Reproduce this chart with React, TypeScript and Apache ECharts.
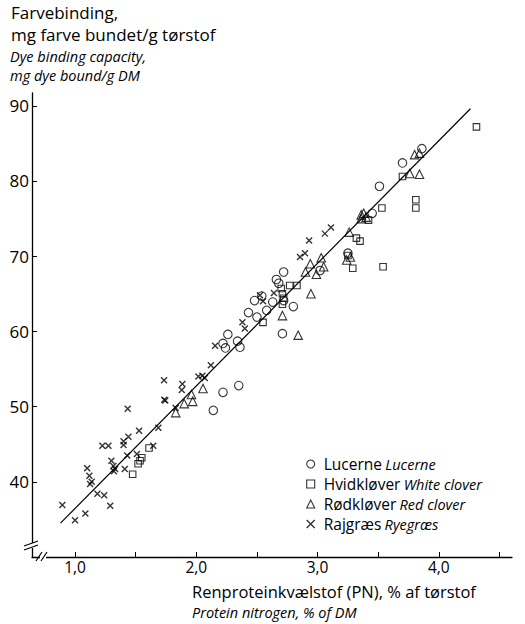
import React, { useEffect, useRef } from "react";
import * as echarts from "echarts";

// Lucerne (circles)
const lucernePN = [2.14, 2.22, 2.35, 2.22, 2.24, 2.26, 2.34, 2.36, 2.43, 2.5, 2.48, 2.54, 2.58, 2.63, 2.72, 2.66, 2.68, 2.71, 2.8, 2.72, 3.02, 3.25, 3.45, 3.51, 3.7, 3.86];
const lucerneDye = [49.5, 51.9, 52.8, 58.4, 57.8, 59.6, 58.7, 57.9, 62.5, 61.9, 64.1, 64.7, 62.8, 63.9, 67.9, 66.9, 66.4, 59.7, 63.3, 64.1, 68.1, 70.4, 75.7, 79.3, 82.4, 84.3];

// Hvidkløver (squares)
const hvidPN = [1.475, 1.536, 1.52, 1.55, 1.61, 2.55, 2.7, 2.71, 2.77, 2.83, 2.72, 2.71, 4.31, 3.7, 3.53, 3.81, 3.81, 3.54, 3.29, 3.42, 3.32, 3.35, 3.25];
const hvidDye = [41.0, 42.8, 42.4, 43.2, 44.5, 61.2, 65.7, 65.0, 66.1, 66.1, 64.4, 63.6, 87.2, 80.6, 76.4, 77.5, 76.4, 68.6, 68.4, 74.8, 72.4, 72.0, 70.1];

// Rødkløver (triangles)
const roedPN = [1.83, 1.9, 1.96, 1.97, 2.055, 2.71, 2.84, 2.945, 2.9, 2.94, 2.99, 3.05, 3.03, 3.8, 3.84, 3.84, 3.76, 3.38, 3.36, 3.36, 3.4, 3.26, 3.27, 3.24];
const roedDye = [49.2, 50.4, 51.6, 50.7, 52.4, 62.1, 59.5, 65.0, 67.9, 69.0, 67.6, 68.6, 69.8, 83.5, 83.7, 80.9, 81.0, 75.7, 75.5, 75.0, 75.2, 73.2, 69.9, 69.5];

// Rajgræs (crosses)
const rajPN = [0.895, 1.0, 1.085, 1.1, 1.118, 1.124, 1.137, 1.184, 1.24, 1.29, 1.225, 1.275, 1.3, 1.316, 1.33, 1.32, 1.41, 1.43, 1.4, 1.4, 1.44, 1.51, 1.645, 1.434, 1.528, 1.687, 1.736, 1.744, 1.734, 1.885, 1.88, 1.83, 2.017, 2.05, 2.07, 2.12, 2.155, 2.38, 2.4, 2.525, 2.55, 2.64, 2.855, 2.896, 3.11, 3.06, 2.93];
const rajDye = [36.9, 34.9, 35.8, 41.8, 40.8, 39.7, 40.0, 38.4, 38.2, 36.8, 44.8, 44.8, 42.8, 42.1, 41.7, 41.4, 41.7, 43.5, 45.4, 44.9, 46.0, 43.7, 44.8, 49.7, 46.8, 47.2, 50.9, 50.8, 53.5, 53.0, 52.2, 49.8, 54.0, 54.1, 53.8, 55.5, 58.1, 61.2, 60.4, 64.8, 64.0, 65.1, 69.9, 70.4, 73.8, 73.0, 72.1];

// Regression line end points
const lineX = [0.88, 4.26];
const lineY = [34.5, 89.6];

// Axes
const xTickValues = [1, 1.5, 2, 2.5, 3, 3.5, 4, 4.5];
const xLabelValues = [1, 2, 3, 4];
const yTickValues = [40, 50, 60, 70, 80, 90];

const seriesNames = ["Lucerne", "Hvidkløver", "Rødkløver", "Rajgræs"];
const englishNames = ["Lucerne", "White clover", "Red clover", "Ryegræs"];

const titleLines = ["Farvebinding,", "mg farve bundet/g tørstof"];
const titleLinesEn = ["Dye binding capacity,", "mg dye bound/g DM"];
const xTitle = "Renproteinkvælstof (PN), % af tørstof";
const xTitleEn = "Protein nitrogen, % of DM";

const FONT = "'Open Sans', Lato, sans-serif";

export default function App() {
  const ref = useRef<HTMLDivElement>(null);
  useEffect(() => {
    const chart = echarts.init(ref.current!, null, { renderer: "svg" });
    const zip = (xs: number[], ys: number[]) => xs.map((x, i) => [x, ys[i]]);
    const hollow = { color: "rgba(0,0,0,0)", borderColor: "#000", borderWidth: 1.1 };
    const crossStyle = { color: "rgba(0,0,0,0)", borderColor: "#000", borderWidth: 1.4 };
    const crossPath = "path://M0,0L10,10M0,10L10,0";
    const icons = ["circle", "rect", "triangle", crossPath];
    const styles = [hollow, hollow, hollow, crossStyle];
    const sizes = [8.5, 6.5, 8.5, 6];
    const datas = [
      zip(lucernePN, lucerneDye),
      zip(hvidPN, hvidDye),
      zip(roedPN, roedDye),
      zip(rajPN, rajDye),
    ];
    const engMap: Record<string, string> = {};
    seriesNames.forEach((n, i) => (engMap[n] = englishNames[i]));

    const txt = (text: string, x: number, y: number, size: number, italic: boolean) => ({
      type: "text",
      x,
      y,
      silent: true,
      style: {
        text,
        fontSize: size,
        fontFamily: FONT,
        fontStyle: italic ? "italic" : "normal",
        fill: "#000",
        verticalAlign: "middle",
        align: "left",
      },
    });

    chart.setOption({
      animation: false,
      backgroundColor: "#fff",
      grid: { left: 32, right: 13, top: 93, bottom: 67, containLabel: false, outerBoundsMode: "none" },
      xAxis: {
        type: "value",
        min: 0.645,
        max: 4.603,
        splitLine: { show: false },
        axisLine: { show: true, onZero: false, lineStyle: { color: "#000", width: 1.3 } },
        axisTick: { show: true, inside: true, length: 5, customValues: xTickValues, lineStyle: { color: "#000", width: 1 } },
        axisLabel: {
          customValues: xLabelValues,
          formatter: (v: number) => v.toFixed(1).replace(".", ","),
          color: "#000",
          fontSize: 15.5,
          fontFamily: FONT,
          margin: 2,
        },
      },
      yAxis: {
        type: "value",
        min: 30,
        max: 91.7,
        splitLine: { show: false },
        axisLine: { show: true, onZero: false, lineStyle: { color: "#000", width: 1.3 } },
        axisTick: { show: true, inside: true, length: 5, customValues: yTickValues, lineStyle: { color: "#000", width: 1 } },
        axisLabel: {
          customValues: yTickValues,
          color: "#000",
          fontSize: 17,
          fontFamily: FONT,
          margin: 3,
        },
      },
      legend: {
        orient: "vertical",
        left: 301,
        top: 451,
        itemWidth: 8,
        itemHeight: 8,
        itemGap: 4,
        data: seriesNames.map((n, i) => ({ name: n, icon: icons[i], itemStyle: styles[i] })),
        formatter: (name: string) => `{a|${name}} {b|${engMap[name]}}`,
        textStyle: {
          padding: [0, 0, 0, 4],
          rich: {
            a: { fontSize: 15.5, fontFamily: FONT, color: "#000", lineHeight: 15 },
            b: { fontSize: 14.5, fontFamily: FONT, fontStyle: "italic", color: "#000", lineHeight: 15 },
          },
        },
      },
      series: [
        {
          type: "line",
          name: "regression",
          data: zip(lineX, lineY),
          symbol: "none",
          silent: true,
          lineStyle: { color: "#000", width: 1.2 },
          z: 1,
        },
        ...seriesNames.map((n, i) => ({
          type: "scatter",
          name: n,
          data: datas[i],
          symbol: icons[i],
          symbolSize: sizes[i],
          itemStyle: styles[i],
          z: 3,
        })),
      ],
      graphic: [
        txt(titleLines[0], 11, 12.5, 17, false),
        txt(titleLines[1], 11, 34, 17, false),
        txt(titleLinesEn[0], 10, 56, 14.5, true),
        txt(titleLinesEn[1], 10, 75.5, 14.5, true),
        txt(xTitle, 192, 591, 16.5, false),
        txt(xTitleEn, 192, 612, 14.5, true),
        // y-axis break
        { type: "rect", shape: { x: 28, y: 543, width: 8, height: 5 }, style: { fill: "#fff" }, silent: true, z: 100 },
        { type: "line", shape: { x1: 24, y1: 546, x2: 38, y2: 541 }, style: { stroke: "#000", lineWidth: 1.2 }, silent: true, z: 101 },
        { type: "line", shape: { x1: 24, y1: 550, x2: 38, y2: 545 }, style: { stroke: "#000", lineWidth: 1.2 }, silent: true, z: 101 },
        // x-axis break
        { type: "rect", shape: { x: 40, y: 554, width: 6, height: 6 }, style: { fill: "#fff" }, silent: true, z: 100 },
        { type: "line", shape: { x1: 36, y1: 561, x2: 42, y2: 552 }, style: { stroke: "#000", lineWidth: 1.2 }, silent: true, z: 101 },
        { type: "line", shape: { x1: 41, y1: 561, x2: 47, y2: 552 }, style: { stroke: "#000", lineWidth: 1.2 }, silent: true, z: 101 },
      ],
    });
    return () => chart.dispose();
  }, []);
  return (
    <div
      ref={ref}
      style={{ position: "fixed", left: 0, top: 0, width: 525, height: 624, background: "#fff" }}
    />
  );
}
